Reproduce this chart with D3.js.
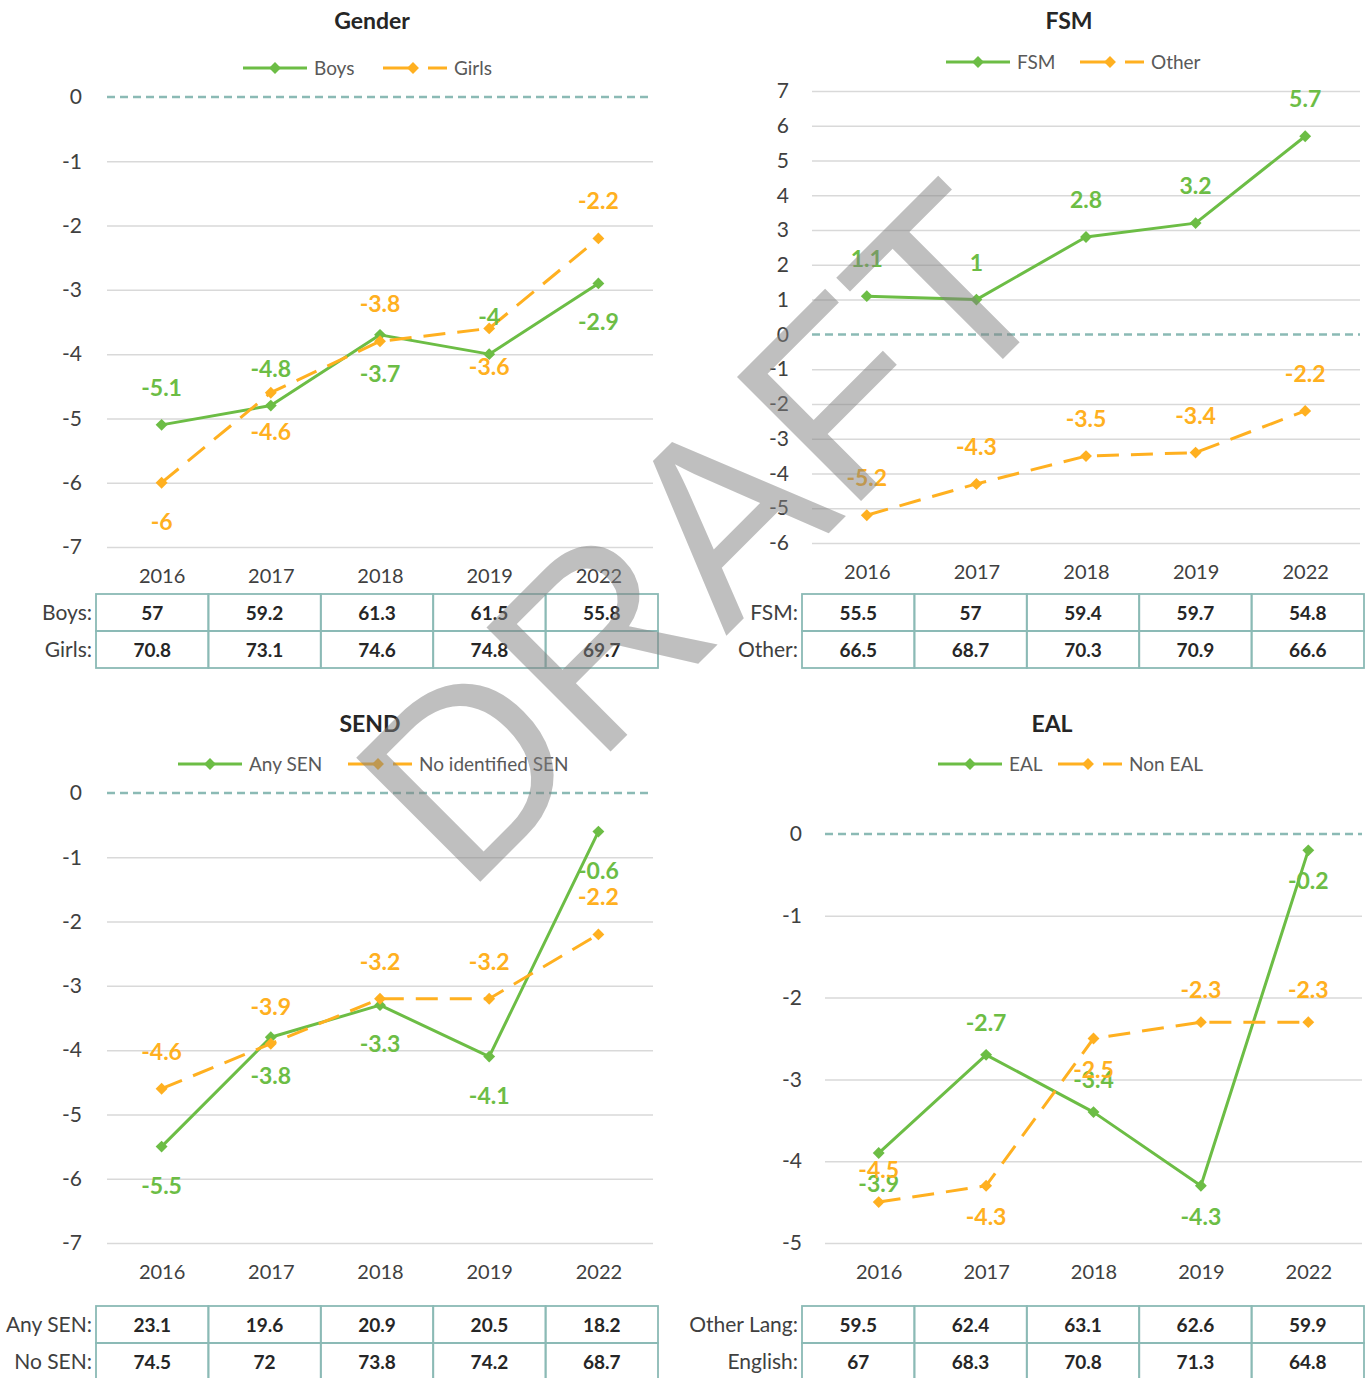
<!DOCTYPE html>
<html>
<head>
<meta charset="utf-8">
<script src="https://cdn.jsdelivr.net/npm/d3@7"></script>
<style>
    body { margin: 0; background: #fff; }
    svg { display: block; }
</style>
</head>
<body>
<div class="svg-container"></div>
<script>
let width = 1367;
let height = 1378;

/********
 * DATA *
 ********/

let years = ["2016", "2017", "2018", "2019", "2022"];

let genderBoys = [-5.1, -4.8, -3.7, -4, -2.9];
let genderGirls = [-6, -4.6, -3.8, -3.6, -2.2];
let genderBoysTable = [57, 59.2, 61.3, 61.5, 55.8];
let genderGirlsTable = [70.8, 73.1, 74.6, 74.8, 69.7];

let fsmFsm = [1.1, 1, 2.8, 3.2, 5.7];
let fsmOther = [-5.2, -4.3, -3.5, -3.4, -2.2];
let fsmFsmTable = [55.5, 57, 59.4, 59.7, 54.8];
let fsmOtherTable = [66.5, 68.7, 70.3, 70.9, 66.6];

let sendAny = [-5.5, -3.8, -3.3, -4.1, -0.6];
let sendNone = [-4.6, -3.9, -3.2, -3.2, -2.2];
let sendAnyTable = [23.1, 19.6, 20.9, 20.5, 18.2];
let sendNoneTable = [74.5, 72, 73.8, 74.2, 68.7];

let ealEal = [-3.9, -2.7, -3.4, -4.3, -0.2];
let ealNon = [-4.5, -4.3, -2.5, -2.3, -2.3];
let ealOtherLangTable = [59.5, 62.4, 63.1, 62.6, 59.9];
let ealEnglishTable = [67, 68.3, 70.8, 71.3, 64.8];

// which side of the point each data label sits on (as in the original)
let genderBoysSide = ["up", "up", "down", "up", "down"];
let genderGirlsSide = ["down", "down", "up", "down", "up"];
let fsmFsmSide = ["up", "up", "up", "up", "up"];
let fsmOtherSide = ["up", "up", "up", "up", "up"];
let sendAnySide = ["down", "down", "down", "down", "down"];
let sendNoneSide = ["up", "up", "up", "up", "up"];
let ealEalSide = ["down", "up", "up", "down", "down"];
let ealNonSide = ["up", "down", "down", "up", "up"];

/**********
 * STYLES *
 **********/

const GREEN = "#6cbd45";
const ORANGE = "#ffb020";
const TEAL = "#8bbab5";
const GRID = "#d9d9d9";
const FONT = "Lato, 'Open Sans', sans-serif";

let panels = [
    {
        title: "Gender", titleX: 372, titleY: 29,
        legendY: 68, legendX: [243, 383], names: ["Boys", "Girls"],
        series: [genderBoys, genderGirls], sides: [genderBoysSide, genderGirlsSide],
        labelUp: -29, labelDown: 47,
        domain: [-7, 0], yTop: 97, yBottom: 547, left: 107, right: 653, tickX: 82,
        yearY: 576,
        table: { left: 96, right: 658, top: 594, rowH: 37, labels: ["Boys:", "Girls:"], rows: [genderBoysTable, genderGirlsTable] }
    },
    {
        title: "FSM", titleX: 1069, titleY: 29,
        legendY: 62, legendX: [946, 1080], names: ["FSM", "Other"],
        series: [fsmFsm, fsmOther], sides: [fsmFsmSide, fsmOtherSide],
        labelUp: -29, labelDown: 47,
        domain: [-6, 7], yTop: 91, yBottom: 543, left: 812, right: 1360, tickX: 789,
        yearY: 572,
        table: { left: 802, right: 1364, top: 594, rowH: 37, labels: ["FSM:", "Other:"], rows: [fsmFsmTable, fsmOtherTable] }
    },
    {
        title: "SEND", titleX: 370, titleY: 732,
        legendY: 764, legendX: [178, 348], names: ["Any SEN", "No identified SEN"],
        series: [sendAny, sendNone], sides: [sendAnySide, sendNoneSide],
        labelUp: -29, labelDown: 47,
        domain: [-7, 0], yTop: 793, yBottom: 1243, left: 107, right: 653, tickX: 82,
        yearY: 1272,
        table: { left: 96, right: 658, top: 1306, rowH: 37, labels: ["Any SEN:", "No SEN:"], rows: [sendAnyTable, sendNoneTable] }
    },
    {
        title: "EAL", titleX: 1052, titleY: 732,
        legendY: 764, legendX: [938, 1058], names: ["EAL", "Non EAL"],
        series: [ealEal, ealNon], sides: [ealEalSide, ealNonSide],
        labelUp: -24, labelDown: 39,
        domain: [-5, 0], yTop: 834, yBottom: 1243, left: 825, right: 1362, tickX: 802,
        yearY: 1272,
        table: { left: 802, right: 1364, top: 1306, rowH: 37, labels: ["Other Lang:", "English:"], rows: [ealOtherLangTable, ealEnglishTable] }
    }
];

let svg = d3.select(".svg-container")
    .append("svg")
    .attr("width", width)
    .attr("height", height)
    .style("font-family", FONT);

/***********
 * DRAWING *
 ***********/

function diamond()
{
    return d3.symbol().type(d3.symbolDiamond2).size(90)();
}

function drawLegend(g, p)
{
    let colors = [GREEN, ORANGE];
    for(let i = 0; i < 2; i++)
    {
        let x0 = p.legendX[i];
        g.append("line")
            .attr("x1", x0).attr("x2", x0 + 64)
            .attr("y1", p.legendY).attr("y2", p.legendY)
            .attr("stroke", colors[i])
            .attr("stroke-width", 3)
            .attr("stroke-dasharray", i === 1 ? "33,12,19" : null);
        g.append("path")
            .attr("d", diamond())
            .attr("transform", "translate(" + (x0 + (i === 0 ? 32 : 30)) + "," + p.legendY + ")")
            .attr("fill", colors[i]);
        g.append("text")
            .attr("x", x0 + 71)
            .attr("y", p.legendY + 7)
            .attr("fill", "#595959")
            .style("font-size", "19px")
            .text(p.names[i]);
    }
}

function drawPanel(p)
{
    let g = svg.append("g");

    let x = d3.scalePoint().domain(years).range([p.left, p.right]).padding(0.5);
    let y = d3.scaleLinear().domain(p.domain).range([p.yBottom, p.yTop]);
    let ticks = d3.range(p.domain[0], p.domain[1] + 1);

    // title
    g.append("text")
        .attr("x", p.titleX).attr("y", p.titleY)
        .attr("text-anchor", "middle")
        .attr("fill", "#262626")
        .style("font-size", "23px")
        .style("font-weight", "bold")
        .text(p.title);

    drawLegend(g, p);

    // gridlines (zero line drawn separately, dashed)
    g.append("g")
        .attr("transform", "translate(" + p.left + ",0)")
        .call(d3.axisLeft(y).tickValues(ticks.filter(t => t !== 0)).tickSize(-(p.right - p.left)).tickFormat(""))
        .call(a => a.select(".domain").remove())
        .call(a => a.selectAll("line").attr("stroke", GRID).attr("stroke-width", 1.5));

    g.append("line")
        .attr("x1", p.left).attr("x2", p.right)
        .attr("y1", y(0)).attr("y2", y(0))
        .attr("stroke", TEAL)
        .attr("stroke-width", 2.5)
        .attr("stroke-dasharray", "8,5");

    // y tick labels
    g.append("g")
        .attr("transform", "translate(" + p.tickX + ",0)")
        .call(d3.axisLeft(y).tickValues(ticks).tickSize(0).tickPadding(0).tickFormat(d => String(d)))
        .call(a => a.select(".domain").remove())
        .call(a => a.selectAll("text").attr("fill", "#404040").style("font-size", "21px").style("font-family", FONT));

    // year labels
    g.append("g")
        .attr("transform", "translate(0," + (p.yearY - 7) + ")")
        .call(d3.axisBottom(x).tickSize(0).tickPadding(0))
        .call(a => a.select(".domain").remove())
        .call(a => a.selectAll("text").attr("fill", "#404040").style("font-size", "20px").style("font-family", FONT));

    // series lines and markers
    let colors = [GREEN, ORANGE];
    let line = d3.line().x((d, i) => x(years[i])).y(d => y(d));

    for(let s = 0; s < 2; s++)
    {
        let values = p.series[s];
        g.append("path")
            .datum(values)
            .attr("d", line)
            .attr("fill", "none")
            .attr("stroke", colors[s])
            .attr("stroke-width", 3)
            .attr("stroke-linejoin", "round")
            .attr("stroke-dasharray", s === 1 ? "22,12" : null);

        g.append("g").selectAll("path")
            .data(values)
            .enter()
            .append("path")
            .attr("d", diamond())
            .attr("transform", (d, i) => "translate(" + x(years[i]) + "," + y(d) + ")")
            .attr("fill", colors[s]);
    }

    // data labels on top
    for(let s = 0; s < 2; s++)
    {
        let values = p.series[s];
        g.append("g").selectAll("text")
            .data(values)
            .enter()
            .append("text")
            .attr("x", (d, i) => x(years[i]))
            .attr("y", (d, i) => y(d) + (p.sides[s][i] === "up" ? p.labelUp : p.labelDown))
            .attr("text-anchor", "middle")
            .attr("fill", colors[s])
            .style("font-size", "23px")
            .style("font-weight", "bold")
            .text(d => String(d));
    }

    drawTable(g, p.table);
}

function drawTable(g, t)
{
    let col = d3.scaleBand().domain(years).range([t.left, t.right]);

    for(let r = 0; r < t.rows.length; r++)
    {
        let top = t.top + r * t.rowH;
        g.append("text")
            .attr("x", t.left - 4)
            .attr("y", top + t.rowH / 2 + 7)
            .attr("text-anchor", "end")
            .attr("fill", "#404040")
            .style("font-size", "21px")
            .text(t.labels[r]);

        let cells = g.append("g").selectAll("g")
            .data(t.rows[r])
            .enter()
            .append("g");

        cells.append("rect")
            .attr("x", (d, i) => col(years[i]))
            .attr("y", top)
            .attr("width", col.bandwidth())
            .attr("height", t.rowH)
            .attr("fill", "none")
            .attr("stroke", TEAL)
            .attr("stroke-width", 1.8);

        cells.append("text")
            .attr("x", (d, i) => col(years[i]) + col.bandwidth() / 2)
            .attr("y", top + t.rowH / 2 + 7)
            .attr("text-anchor", "middle")
            .attr("fill", "#262626")
            .style("font-size", "19px")
            .style("font-weight", "bold")
            .text(d => String(d));
    }
}

panels.forEach(drawPanel);

// DRAFT watermark over everything
svg.append("text")
    .attr("transform", "translate(766,596) rotate(-45)")
    .attr("text-anchor", "middle")
    .attr("fill", "#808080")
    .attr("fill-opacity", 0.5)
    .style("font-family", "'Liberation Sans', Arial, sans-serif")
    .style("font-size", "255px")
    .text("DRAFT");
</script>
</body>
</html>
